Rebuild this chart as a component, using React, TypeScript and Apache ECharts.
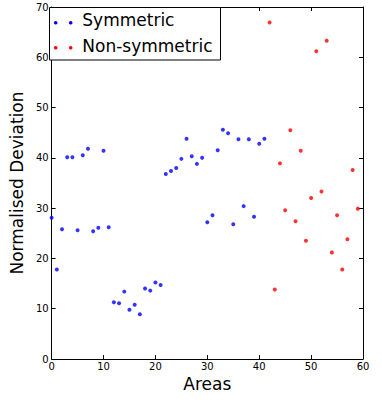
import React, { useEffect, useRef } from "react";
import * as echarts from "echarts";

const symmetricX = [
  0, 1, 2, 3, 4, 5, 6, 7, 8, 9, 10, 11, 12, 13, 14, 15, 16, 17, 18, 19, 20,
  21, 22, 23, 24, 25, 26, 27, 28, 29, 30, 31, 32, 33, 34, 35, 36, 37, 38, 39,
  40, 41,
];
const symmetricY = [
  28.1, 17.8, 25.8, 40.1, 40.1, 25.6, 40.5, 41.8, 25.4, 26.1, 41.4, 26.2, 11.3,
  11.1, 13.4, 9.8, 10.8, 8.9, 14.0, 13.6, 15.2, 14.7, 36.8, 37.4, 38.0, 39.8,
  43.8, 40.3, 38.8, 40.0, 27.2, 28.6, 41.5, 45.6, 44.9, 26.8, 43.7, 30.4, 43.7,
  28.3, 42.8, 43.8,
];
const nonSymmetricX = [
  42, 43, 44, 45, 46, 47, 48, 49, 50, 51, 52, 53, 54, 55, 56, 57, 58, 59,
];
const nonSymmetricY = [
  66.9, 13.8, 38.9, 29.6, 45.5, 27.4, 41.4, 23.5, 32.0, 61.2, 33.3, 63.3, 21.2,
  28.6, 17.8, 23.8, 37.6, 29.9,
];
const seriesNames = ["Symmetric", "Non-symmetric"];
const seriesColors = ["#0000ff", "#ff0000"];
const xTitle = "Areas";
const yTitle = "Normalised Deviation";

const FONT = "'DejaVu Sans', sans-serif";

export default function App() {
  const ref = useRef<HTMLDivElement>(null);
  useEffect(() => {
    if (!ref.current) return;
    const chart = echarts.init(ref.current, undefined, { renderer: "svg" });
    const axisLine = { show: true, onZero: false, lineStyle: { color: "#000", width: 1 } };
    const axisTick = { show: true, inside: true, length: 4, lineStyle: { color: "#000" } };
    const labelStyle = { color: "#000", fontSize: 10, fontFamily: FONT };
    const xBase = { type: "value" as const, min: 0, max: 60, interval: 10, splitLine: { show: false }, axisLine, axisTick };
    const yBase = { type: "value" as const, min: 0, max: 70, interval: 10, splitLine: { show: false }, axisLine, axisTick };
    const legendRows = [20.4, 45.8];
    const dotRows = [22.7, 47.7];
    const graphicElems: any[] = [
      {
        type: "rect",
        z: 100,
        shape: { x: 49.5, y: 7.5, width: 171, height: 52.5 },
        style: { fill: "#fff", stroke: "#000", lineWidth: 1 },
      },
    ];
    seriesNames.forEach((n, i) => {
      [55.7, 70.7].forEach((cx) => {
        graphicElems.push({
          type: "circle",
          z: 101,
          shape: { cx, cy: dotRows[i], r: 1.8 },
          style: { fill: seriesColors[i] },
        });
      });
      graphicElems.push({
        type: "text",
        z: 101,
        x: 82.3,
        y: legendRows[i],
        style: {
          text: n,
          fontSize: 17,
          fontFamily: FONT,
          fill: "#000",
          verticalAlign: "middle",
          align: "left",
        },
      });
    });
    chart.setOption({
      animation: false,
      backgroundColor: "#fff",
      grid: { left: 49, right: 19, top: 7, bottom: 48, containLabel: false },
      xAxis: [
        {
          ...xBase,
          position: "bottom",
          axisLabel: { ...labelStyle, margin: 2 },
          name: xTitle,
          nameLocation: "middle",
          nameGap: 16,
          nameTextStyle: { color: "#000", fontSize: 17, fontFamily: FONT },
        },
        { ...xBase, position: "top", axisLabel: { show: false } },
      ],
      yAxis: [
        {
          ...yBase,
          position: "left",
          axisLabel: { ...labelStyle, margin: 3 },
          name: yTitle,
          nameLocation: "middle",
          nameGap: 18,
          nameTextStyle: { color: "#000", fontSize: 17, fontFamily: FONT },
        },
        { ...yBase, position: "right", axisLabel: { show: false } },
      ],
      series: [
        {
          name: seriesNames[0],
          type: "scatter",
          symbolSize: 4,
          itemStyle: { color: seriesColors[0] },
          data: symmetricX.map((x, i) => [x, symmetricY[i]]),
        },
        {
          name: seriesNames[1],
          type: "scatter",
          symbolSize: 4,
          itemStyle: { color: seriesColors[1] },
          data: nonSymmetricX.map((x, i) => [x, nonSymmetricY[i]]),
        },
      ],
      graphic: graphicElems,
    });
    return () => chart.dispose();
  }, []);
  return (
    <div
      ref={ref}
      style={{ position: "fixed", left: 0, top: 0, width: 382, height: 407 }}
    />
  );
}
